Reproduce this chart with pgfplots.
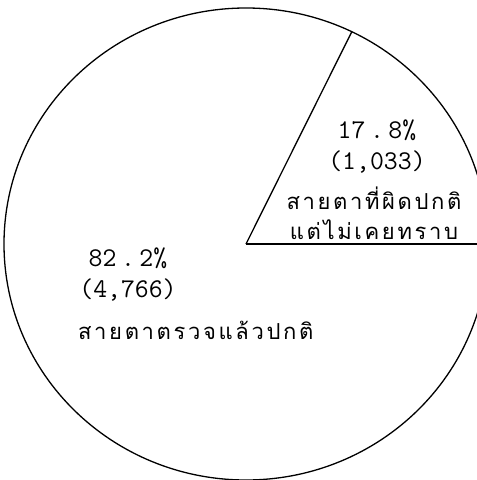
\documentclass[border=0pt]{standalone}
\usepackage{fontspec}
\newfontfamily\thai[Script=Thai, LetterSpace=12]{Loma}
\usepackage{pgfplots}
\pgfplotsset{compat=1.18}
\begin{document}
\begin{tikzpicture}
\begin{axis}[
  width=477pt, height=480pt, scale only axis,
  xmin=0, xmax=477, ymin=0, ymax=480, y dir=reverse,
  axis lines=none, ticks=none, clip=true,
]
% pie outline
\draw[line width=1.3pt] (axis cs:246,244) ellipse [x radius=242pt, y radius=236pt];
% slice boundaries: 17.8% (1,033) and 82.2% (4,766); start angle 0, boundary at 0.178*360 = 64.08 deg
\addplot[black, line width=1.3pt] coordinates {(246,244) (490,244)};
\addplot[black, line width=1.3pt] coordinates {(246,244) (351.8,31.7)};
\node[font=\fontsize{27}{30}\selectfont\ttfamily] at (axis cs:377,130) {17\,.\,8\%};
\node[font=\fontsize{27}{30}\selectfont\ttfamily] at (axis cs:377,162) {(1,033)};
\node[font=\fontsize{22}{30}\selectfont\thai] at (axis cs:374,198) {สายตาที่ผิดปกติ};
\node[font=\fontsize{22}{30}\selectfont\thai] at (axis cs:374,230) {แต่ไม่เคยทราบ};
\node[font=\fontsize{27}{30}\selectfont\ttfamily] at (axis cs:128,258) {82\,.\,2\%};
\node[font=\fontsize{27}{30}\selectfont\ttfamily] at (axis cs:128,290) {(4,766)};
\node[font=\fontsize{22}{30}\selectfont\thai, anchor=west, inner sep=0pt] at (axis cs:78,330) {สายตาตรวจแล้วปกติ};
\end{axis}
\pgfresetboundingbox
\useasboundingbox (current axis.south west) rectangle (current axis.north east);
\end{tikzpicture}
\end{document}
